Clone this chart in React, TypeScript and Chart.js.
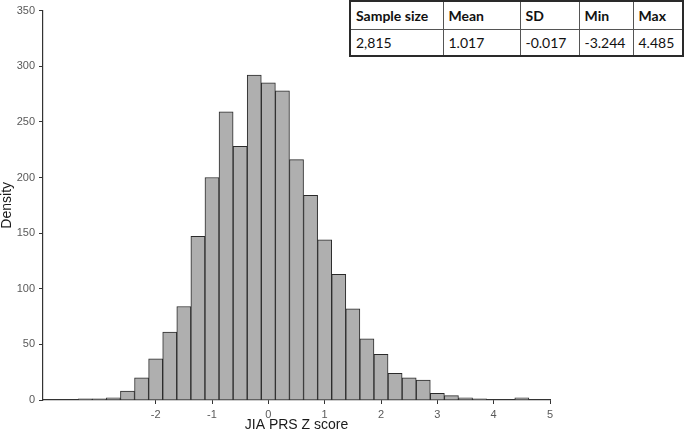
import React, { useEffect, useRef } from "react";
import { Chart, registerables } from "chart.js";

Chart.register(...registerables);

// Histogram bin centres (bin width 0.25) and counts
const binCenters = [
  -3.25, -3.0, -2.75, -2.5, -2.25, -2.0, -1.75, -1.5, -1.25, -1.0, -0.75, -0.5,
  -0.25, 0.0, 0.25, 0.5, 0.75, 1.0, 1.25, 1.5, 1.75, 2.0, 2.25, 2.5, 2.75, 3.0,
  3.25, 3.5, 3.75, 4.0, 4.25, 4.5,
];
const counts = [
  1, 1, 2, 8, 20, 37, 61, 84, 147, 200, 259, 228,
  292, 285, 278, 216, 184, 144, 113, 82, 55, 41, 24, 20, 18, 6,
  4, 2, 1, 0, 0, 2,
];
const xTickValues = [-2, -1, 0, 1, 2, 3, 4, 5];
const yTickValues = [0, 50, 100, 150, 200, 250, 300, 350];
const xTitle = "JIA PRS Z score";
const yTitle = "Density";
const tableHeaders = ["Sample size", "Mean", "SD", "Min", "Max"];
const tableValues = ["2,815", "1.017", "-0.017", "-3.244", "4.485"];
const colWidths = [93, 77, 59, 54, 50];

export default function App() {
  const canvasRef = useRef<HTMLCanvasElement | null>(null);

  useEffect(() => {
    const canvas = canvasRef.current;
    if (!canvas) return;
    const chart = new Chart(canvas, {
      type: "bar",
      data: {
        datasets: [
          {
            data: binCenters.map((x, i) => ({ x, y: counts[i] })),
            backgroundColor: "#afafaf",
            borderColor: "#2a2a2a",
            borderWidth: 1,
            barPercentage: 1,
            categoryPercentage: 1,
          },
        ],
      },
      options: {
        responsive: false,
        animation: false,
        devicePixelRatio: 1,
        layout: { padding: { top: 8, right: 135, left: 0, bottom: 0 } },
        plugins: {
          legend: { display: false },
          tooltip: { enabled: false },
          title: { display: false },
        },
        scales: {
          x: {
            type: "linear",
            min: -4,
            max: 5,
            offset: false,
            afterFit: (s: any) => {
              s.height = 34;
            },
            afterBuildTicks: (s: any) => {
              s.ticks = xTickValues.map((v) => ({ value: v }));
            },
            grid: {
              offset: false,
              display: true,
              drawOnChartArea: false,
              drawTicks: true,
              tickLength: 4,
              color: "#333333",
              lineWidth: 1,
            },
            border: { display: true, color: "#333333", width: 1.2 },
            ticks: {
              autoSkip: false,
              maxRotation: 0,
              padding: 4,
              color: "#595959",
              font: { family: "'Liberation Sans', Arial, sans-serif", size: 11 },
            },
            title: {
              display: true,
              text: xTitle,
              color: "#1a1a1a",
              padding: { top: 0, bottom: 0 },
              font: { family: "'Liberation Sans', Arial, sans-serif", size: 14 },
            },
          },
          y: {
            type: "linear",
            min: 0,
            max: 350,
            afterFit: (s: any) => {
              s.width = 43;
            },
            afterBuildTicks: (s: any) => {
              s.ticks = yTickValues.map((v) => ({ value: v }));
            },
            grid: {
              display: true,
              drawOnChartArea: false,
              drawTicks: true,
              tickLength: 4,
              color: "#333333",
              lineWidth: 1,
            },
            border: { display: true, color: "#333333", width: 1.2 },
            ticks: {
              padding: 4,
              color: "#595959",
              font: { family: "'Liberation Sans', Arial, sans-serif", size: 11 },
            },
            title: {
              display: true,
              text: yTitle,
              color: "#1a1a1a",
              padding: { top: 0, bottom: 0 },
              font: { family: "'Liberation Sans', Arial, sans-serif", size: 14, lineHeight: 1 },
            },
          },
        },
      },
    });
    return () => chart.destroy();
  }, []);

  const cellBase: React.CSSProperties = {
    borderRight: "1px solid #555",
    padding: "0 0 0 5px",
    textAlign: "left",
    verticalAlign: "middle",
    whiteSpace: "nowrap",
  };

  return (
    <div
      style={{
        position: "absolute",
        left: 0,
        top: 0,
        width: 685,
        height: 434,
        background: "#ffffff",
      }}
    >
      <canvas ref={canvasRef} width={685} height={434} style={{ display: "block" }} />
      <table
        style={{
          position: "absolute",
          left: 349,
          top: 0,
          borderCollapse: "collapse",
          border: "2px solid #2a2a2a",
          fontFamily: "Lato, 'Open Sans', sans-serif",
          fontSize: 14,
          color: "#111",
          background: "#fff",
          tableLayout: "fixed",
        }}
      >
        <colgroup>
          {colWidths.map((w, i) => (
            <col key={i} style={{ width: w }} />
          ))}
        </colgroup>
        <tbody>
          <tr style={{ height: 28, borderBottom: "1px solid #555" }}>
            {tableHeaders.map((h, i) => (
              <td
                key={h}
                style={{
                  ...cellBase,
                  fontWeight: 700,
                  borderRight: i === tableHeaders.length - 1 ? "none" : cellBase.borderRight,
                }}
              >
                {h}
              </td>
            ))}
          </tr>
          <tr style={{ height: 27 }}>
            {tableValues.map((v, i) => (
              <td
                key={i}
                style={{
                  ...cellBase,
                  borderRight: i === tableValues.length - 1 ? "none" : cellBase.borderRight,
                }}
              >
                {v}
              </td>
            ))}
          </tr>
        </tbody>
      </table>
    </div>
  );
}
